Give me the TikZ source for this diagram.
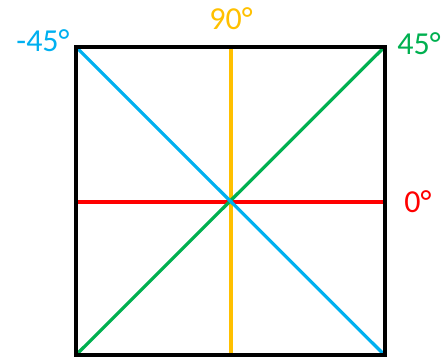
\documentclass[tikz,border=0pt]{standalone}
\usepackage{fontspec}
\setmainfont{Carlito}
\usepackage{tikz}

\definecolor{angcyan}{HTML}{00B0F0}
\definecolor{angyellow}{HTML}{FFC000}
\definecolor{anggreen}{HTML}{00B050}
\definecolor{angred}{HTML}{FF0000}

\tikzset{
  frame/.style={line width=4pt, black},
  axis/.style={line width=3.2pt},
  anglabel/.style={font=\fontsize{32}{32}\selectfont, inner sep=0pt}
}

\begin{document}
\begin{tikzpicture}[x=1pt, y=1pt]
  \useasboundingbox (0,0) rectangle (444,358);
  % square corners
  \coordinate (bl) at (76,3);
  \coordinate (br) at (384.5,3);
  \coordinate (tr) at (384.5,311);
  \coordinate (tl) at (76,311);
  \coordinate (ml) at (76,156);
  \coordinate (mr) at (384.5,156);
  \coordinate (mt) at (231,311);
  \coordinate (mb) at (231,3);
  % orientation lines
  \draw[axis, angred] (ml) -- (mr);
  \draw[axis, angyellow] (mb) -- (mt);
  \draw[axis, anggreen] (bl) -- (tr);
  \draw[axis, angcyan] (tl) -- (br);
  \draw[frame] (bl) rectangle (tr);
  % labels
  \node[anglabel, angcyan] (lblm45) at (43,317) {-45°};
  \node[anglabel, angyellow] (lbl90) at (231,339) {90°};
  \node[anglabel, anggreen] (lbl45) at (419,314) {45°};
  \node[anglabel, angred] (lbl0) at (418,156) {0°};
\end{tikzpicture}
\end{document}
